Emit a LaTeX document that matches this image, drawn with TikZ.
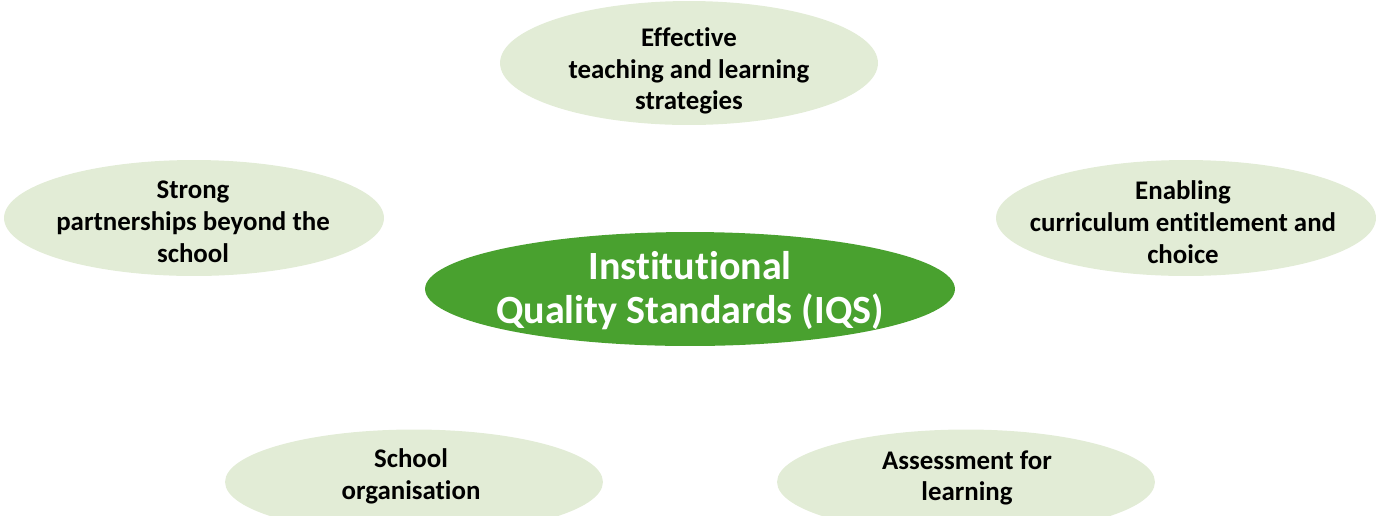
\documentclass[tikz,border=0pt]{standalone}
\usepackage{fontspec}
\setmainfont{Carlito}[Ligatures=NoCommon]
\usetikzlibrary{shapes.geometric}

\definecolor{palegreen}{RGB}{226,236,214}
\definecolor{iqsgreen}{RGB}{73,161,47}

\tikzset{
  bubble/.style={ellipse,fill=palegreen,inner sep=0pt},
  hub/.style={ellipse,fill=iqsgreen,inner sep=0pt},
  txt/.style={align=center,font=\fontsize{15.3}{18.1}\selectfont\bfseries,text=black},
  hubtxt/.style={align=center,font=\fontsize{22.8}{25}\selectfont\bfseries,text=white}
}

\begin{document}
\begin{tikzpicture}[x=0.02cm,y=-0.02cm]
        \useasboundingbox (0,0) rectangle (1376,515);
        \clip (0,0) rectangle (1376,515);
        % outer ellipses
        \node[bubble,minimum width=7.56cm,minimum height=2.48cm] (teach) at (689,63) {};
        \node[bubble,minimum width=7.6cm,minimum height=2.32cm] (partner) at (194,218) {};
        \node[bubble,minimum width=7.6cm,minimum height=2.32cm] (curric) at (1186,218) {};
        \node[bubble,minimum width=7.56cm,minimum height=2.1cm] (organ) at (414,482) {};
        \node[bubble,minimum width=7.56cm,minimum height=2.1cm] (assess) at (966,482) {};
        % centre
        \node[hub,minimum width=10.6cm,minimum height=2.28cm] (iqs) at (690,289) {};
        % texts
        \node[txt] (teachtxt) at (689,71) {Effective\\teaching and learning\\strategies};
        \node[txt] (partnertxt) at (193,222) {Strong\\partnerships beyond the\\school};
        \node[txt] (currictxt) at (1183,222) {Enabling\\curriculum entitlement and\\choice};
        \node[txt] (organtxt) at (411,476) {School\\organisation};
        \node[txt] (assesstxt) at (967,478) {Assessment for\\learning};
        \node[hubtxt] (iqstxt) at (690,291) {Institutional\\Quality Standards (IQS)};
\end{tikzpicture}
\end{document}
